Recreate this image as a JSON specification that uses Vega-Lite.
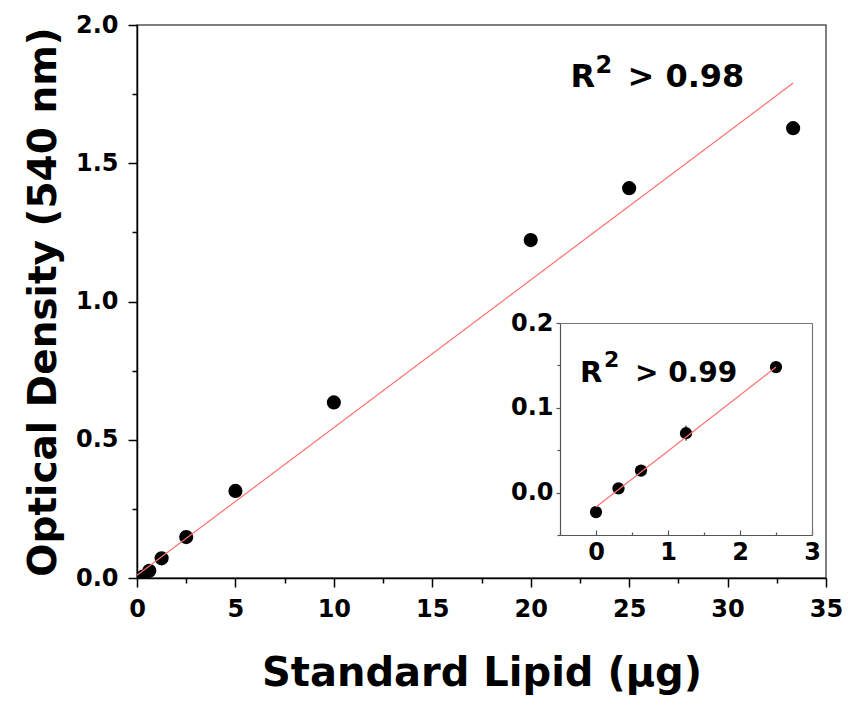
{
  "$schema": "https://vega.github.io/schema/vega-lite/v6.json",
  "width": 689,
  "height": 553,
  "autosize": {"type": "none"},
  "padding": {"left": 137, "top": 25, "right": 22, "bottom": 131},
  "background": "white",
  "config": {
    "view": {"stroke": "#555555", "strokeWidth": 1.5},
    "font": "DejaVu Sans"
  },
  "datasets": {
    "main": [
      {"lipid": 0, "od": -0.024},
      {"lipid": 0.3125, "od": 0.005},
      {"lipid": 0.625, "od": 0.026},
      {"lipid": 1.25, "od": 0.071},
      {"lipid": 2.5, "od": 0.148},
      {"lipid": 5, "od": 0.315},
      {"lipid": 10, "od": 0.635},
      {"lipid": 20, "od": 1.222},
      {"lipid": 25, "od": 1.41},
      {"lipid": 33.33, "od": 1.627}
    ],
    "inset": [
      {"lipid": 0, "od": -0.023, "err": 0.003},
      {"lipid": 0.3125, "od": 0.005, "err": 0.003},
      {"lipid": 0.625, "od": 0.026, "err": 0.003},
      {"lipid": 1.25, "od": 0.070, "err": 0.009},
      {"lipid": 2.5, "od": 0.148, "err": 0.006}
    ],
    "mainFit": [
      {"lipid": 0, "od": 0.01},
      {"lipid": 33.33, "od": 1.79}
    ],
    "insetFit": [
      {"lipid": 0, "od": -0.017},
      {"lipid": 2.5, "od": 0.148}
    ],
    "mainLabel": [{"lipid": 22.02, "od": 1.777, "base": "R", "sup": "2", "rest": "> 0.98"}],
    "insetLabel": [{"lipid": -0.222, "od": 0.131, "base": "R", "sup": "2", "rest": "> 0.99"}]
  },
  "layer": [
    {
      "layer": [
        {
          "data": {"name": "main"},
          "mark": {"type": "point", "filled": true, "shape": "circle", "color": "black", "size": 200, "opacity": 1, "clip": true},
          "encoding": {
            "x": {
              "field": "lipid", "type": "quantitative",
              "scale": {"domain": [0, 35], "nice": false, "zero": false},
              "axis": {
                "orient": "bottom",
                "title": "Standard Lipid (μg)",
                "values": [0, 2.5, 5, 7.5, 10, 12.5, 15, 17.5, 20, 22.5, 25, 27.5, 30, 32.5, 35],
                "labelExpr": "datum.value % 5 == 0 ? format(datum.value, 'd') : ''",
                "tickSize": {"condition": {"test": "datum.value % 5 == 0", "value": 9}, "value": 5},
                "grid": false,
                "domainColor": "black", "domainWidth": 1.5,
                "tickColor": "black", "tickWidth": 1.5,
                "labelFont": "DejaVu Sans", "labelFontWeight": "bold", "labelFontSize": 24, "labelColor": "black",
                "labelPadding": 10, "labelFlush": false, "labelOverlap": false,
                "titleFont": "DejaVu Sans", "titleFontWeight": "bold", "titleFontSize": 40, "titleColor": "black",
                "titlePadding": 32
              }
            },
            "y": {
              "field": "od", "type": "quantitative",
              "scale": {"domain": [0, 2], "nice": false, "zero": false},
              "axis": {
                "orient": "left",
                "title": "Optical Density (540 nm)",
                "values": [0, 0.25, 0.5, 0.75, 1, 1.25, 1.5, 1.75, 2],
                "labelExpr": "round(datum.value * 4) % 2 == 0 ? format(datum.value, '.1f') : ''",
                "tickSize": {"condition": {"test": "round(datum.value * 4) % 2 == 0", "value": 9}, "value": 5},
                "grid": false,
                "domainColor": "black", "domainWidth": 1.5,
                "tickColor": "black", "tickWidth": 1.5,
                "labelFont": "DejaVu Sans", "labelFontWeight": "bold", "labelFontSize": 24, "labelColor": "black",
                "labelPadding": 10, "labelFlush": false, "labelOverlap": false,
                "titleFont": "DejaVu Sans", "titleFontWeight": "bold", "titleFontSize": 39, "titleColor": "black",
                "titlePadding": 12
              }
            }
          }
        },
        {
          "data": {"name": "mainFit"},
          "mark": {"type": "line", "color": "#ff6f6f", "strokeWidth": 1.2},
          "encoding": {
            "x": {"field": "lipid", "type": "quantitative"},
            "y": {"field": "od", "type": "quantitative"}
          }
        },
        {
          "data": {"name": "mainLabel"},
          "mark": {"type": "text", "font": "DejaVu Sans", "fontWeight": "bold", "fontSize": 32, "color": "black", "align": "left", "baseline": "alphabetic"},
          "encoding": {
            "x": {"field": "lipid", "type": "quantitative"},
            "y": {"field": "od", "type": "quantitative"},
            "text": {"field": "base"}
          }
        },
        {
          "data": {"name": "mainLabel"},
          "mark": {"type": "text", "font": "DejaVu Sans", "fontWeight": "bold", "fontSize": 24, "color": "black", "align": "left", "baseline": "alphabetic", "dx": 25, "dy": -14},
          "encoding": {
            "x": {"field": "lipid", "type": "quantitative"},
            "y": {"field": "od", "type": "quantitative"},
            "text": {"field": "sup"}
          }
        },
        {
          "data": {"name": "mainLabel"},
          "mark": {"type": "text", "font": "DejaVu Sans", "fontWeight": "bold", "fontSize": 32, "color": "black", "align": "left", "baseline": "alphabetic", "dx": 57},
          "encoding": {
            "x": {"field": "lipid", "type": "quantitative"},
            "y": {"field": "od", "type": "quantitative"},
            "text": {"field": "rest"}
          }
        }
      ]
    },
    {
      "layer": [
        {
          "data": {"name": "inset"},
          "mark": {"type": "errorbar", "color": "#333333", "thickness": 1.2},
          "encoding": {
            "x": {
              "field": "lipid", "type": "quantitative",
              "scale": {"domain": [-0.5, 3], "range": [423, 675], "nice": false, "zero": false},
              "axis": {
                "orient": "top", "offset": -298, "title": null,
                "labels": false, "ticks": false, "grid": false,
                "domainColor": "#777777", "domainWidth": 1.2
              }
            },
            "y": {
              "field": "od", "type": "quantitative",
              "scale": {"domain": [-0.05, 0.2], "range": [510, 298], "nice": false, "zero": false},
              "axis": {
                "orient": "right", "offset": -14, "title": null,
                "labels": false, "ticks": false, "grid": false,
                "domainColor": "#777777", "domainWidth": 1.2
              }
            },
            "yError": {"field": "err"}
          }
        },
        {
          "data": {"name": "inset"},
          "mark": {"type": "point", "filled": true, "shape": "circle", "color": "black", "size": 150, "opacity": 1},
          "encoding": {
            "x": {
              "field": "lipid", "type": "quantitative",
              "axis": {
                "orient": "bottom", "offset": -43, "title": null,
                "values": [-0.5, 0, 0.5, 1, 1.5, 2, 2.5, 3],
                "labelExpr": "round(datum.value * 2) % 2 == 0 ? format(datum.value, 'd') : ''",
                "tickSize": {"condition": {"test": "round(datum.value * 2) % 2 == 0", "value": -5}, "value": -3},
                "grid": false,
                "domainColor": "#555555", "domainWidth": 1.2,
                "tickColor": "#555555", "tickWidth": 1.2,
                "labelFont": "DejaVu Sans", "labelFontWeight": "bold", "labelFontSize": 24, "labelColor": "black",
                "labelPadding": 10, "labelFlush": false, "labelOverlap": false
              }
            },
            "y": {
              "field": "od", "type": "quantitative",
              "axis": {
                "orient": "left", "offset": -423, "title": null,
                "values": [-0.05, 0, 0.05, 0.1, 0.15, 0.2],
                "labelExpr": "round(datum.value * 20) % 2 == 0 ? format(datum.value, '.1f') : ''",
                "tickSize": {"condition": {"test": "round(datum.value * 20) % 2 == 0", "value": 4}, "value": 3},
                "grid": false,
                "domainColor": "#555555", "domainWidth": 1.2,
                "tickColor": "#555555", "tickWidth": 1.2,
                "labelFont": "DejaVu Sans", "labelFontWeight": "bold", "labelFontSize": 24, "labelColor": "black",
                "labelPadding": 3, "labelFlush": false, "labelOverlap": false
              }
            }
          }
        },
        {
          "data": {"name": "insetFit"},
          "mark": {"type": "line", "color": "#ff6f6f", "strokeWidth": 1.2},
          "encoding": {
            "x": {"field": "lipid", "type": "quantitative", "axis": null},
            "y": {"field": "od", "type": "quantitative", "axis": null}
          }
        },
        {
          "data": {"name": "insetLabel"},
          "mark": {"type": "text", "font": "DejaVu Sans", "fontWeight": "bold", "fontSize": 29, "color": "black", "align": "left", "baseline": "alphabetic"},
          "encoding": {
            "x": {"field": "lipid", "type": "quantitative", "axis": null},
            "y": {"field": "od", "type": "quantitative", "axis": null},
            "text": {"field": "base"}
          }
        },
        {
          "data": {"name": "insetLabel"},
          "mark": {"type": "text", "font": "DejaVu Sans", "fontWeight": "bold", "fontSize": 22, "color": "black", "align": "left", "baseline": "alphabetic", "dx": 24, "dy": -15},
          "encoding": {
            "x": {"field": "lipid", "type": "quantitative", "axis": null},
            "y": {"field": "od", "type": "quantitative", "axis": null},
            "text": {"field": "sup"}
          }
        },
        {
          "data": {"name": "insetLabel"},
          "mark": {"type": "text", "font": "DejaVu Sans", "fontWeight": "bold", "fontSize": 28, "color": "black", "align": "left", "baseline": "alphabetic", "dx": 55},
          "encoding": {
            "x": {"field": "lipid", "type": "quantitative", "axis": null},
            "y": {"field": "od", "type": "quantitative", "axis": null},
            "text": {"field": "rest"}
          }
        }
      ],
      "resolve": {"axis": {"x": "independent", "y": "independent"}}
    }
  ],
  "resolve": {"scale": {"x": "independent", "y": "independent"}}
}
